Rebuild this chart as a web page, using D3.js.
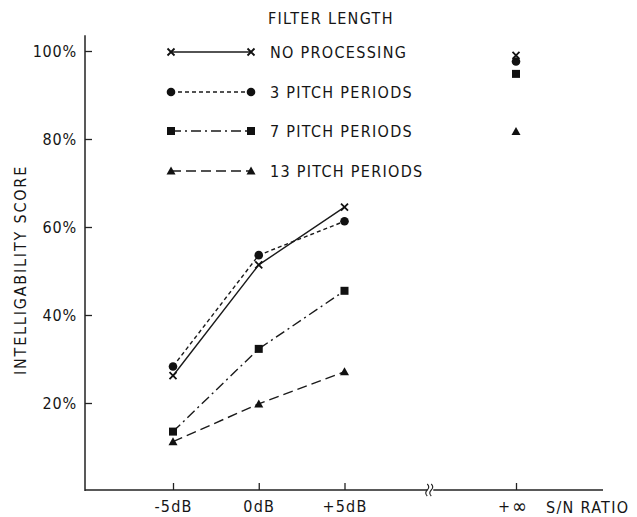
<!DOCTYPE html>
<html><head><meta charset="utf-8">
<script src="https://cdn.jsdelivr.net/npm/d3@7"></script>
<style>
body{margin:0;background:#fff;}
text{font-family:"DejaVu Sans Condensed","DejaVu Sans",sans-serif;fill:#151515;}
</style></head>
<body><svg id="c" width="637" height="517"></svg>
<script>
// ---- data ----
const categories = ["-5dB","0dB","+5dB","","+∞"];
const lineCategories = ["-5dB","0dB","+5dB"];
const seriesNames = ["NO PROCESSING","3 PITCH PERIODS","7 PITCH PERIODS","13 PITCH PERIODS"];
const noProcessing = [26.2, 51.4, 64.5];
const pitch3 = [28.3, 53.6, 61.3];
const pitch7 = [13.5, 32.3, 45.5];
const pitch13 = [11.2, 19.8, 27.1];
const infinityValues = [99.0, 97.6, 94.8, 81.7];
const yTicks = [20, 40, 60, 80, 100];
const yTickLabels = ["20%","40%","60%","80%","100%"];

const svg = d3.select("#c");
const x = d3.scalePoint().domain(categories).range([173, 516]);
const y = d3.scaleLinear().domain([0, 100]).range([491, 51]);

const styles = [
  {dash:null, sym:"x"},
  {dash:"4,3", sym:"circle"},
  {dash:"10,4,2,4", sym:"square"},
  {dash:"10,5", sym:"triangle"}
];
const allSeries = [noProcessing, pitch3, pitch7, pitch13];
const FS = "16px";

// axes
const yAxis = d3.axisLeft(y).tickValues(yTicks).tickFormat((d,i)=>yTickLabels[i])
  .tickSizeInner(-7).tickSizeOuter(0).tickPadding(8);
const gy = svg.append("g").attr("transform","translate(85,0)").call(yAxis);
gy.select(".domain").remove();
gy.selectAll("line").attr("stroke","#222").attr("stroke-width",1.3);
gy.selectAll("text").style("font-size",FS).style("letter-spacing","0.8px").style("font-family",null);
svg.append("line").attr("x1",85).attr("x2",85).attr("y1",y(0)).attr("y2",y(103.6))
  .attr("stroke","#222").attr("stroke-width",1.5);

const xAxis = d3.axisBottom(x).tickValues(["-5dB","0dB","+5dB","+∞"]).tickSizeInner(-7).tickSizeOuter(0).tickPadding(11);
const gx = svg.append("g").attr("transform",`translate(0,${y(0)-1})`).call(xAxis);
gx.select(".domain").remove();
gx.selectAll("line").attr("stroke","#222").attr("stroke-width",1.3);
gx.selectAll("text").style("font-size",FS).style("letter-spacing","1.2px").style("font-family",null);
// enlarge the infinity glyph like the original lettering
gx.selectAll("text").filter(d=>d==="+∞").text(null).style("letter-spacing","0px").attr("dx","-4")
  .call(t=>{t.append("tspan").text("+"); t.append("tspan").style("font-size","20px").attr("dx","2").attr("dy","1").text("∞");});
const axisY = y(0)-1;
const brk = x("");
svg.append("line").attr("x1",85).attr("x2",brk-3).attr("y1",axisY).attr("y2",axisY).attr("stroke","#222").attr("stroke-width",1.4);
svg.append("line").attr("x1",brk+3).attr("x2",603).attr("y1",axisY).attr("y2",axisY).attr("stroke","#222").attr("stroke-width",1.4);
[-2,2].forEach(o=>{
  svg.append("path").attr("d",`M${brk+o-1},${axisY-6} q3,3 0,6 q-3,3 0,6`)
    .attr("fill","none").attr("stroke","#222").attr("stroke-width",1.1);
});
svg.append("text").attr("x",546).attr("y",513).style("font-size",FS).style("letter-spacing","1.3px").text("S/N RATIO");

svg.append("text").attr("transform","translate(26,270) rotate(-90)").attr("text-anchor","middle")
  .style("font-size",FS).style("letter-spacing","1.8px").text("INTELLIGABILITY  SCORE");

// markers
function marker(g, sym, cx, cy){
  if(sym==="x"){
    g.append("path").attr("d",`M${cx-3.5},${cy-3.5}L${cx+3.5},${cy+3.5}M${cx-3.5},${cy+3.5}L${cx+3.5},${cy-3.5}`)
      .attr("stroke","#111").attr("stroke-width",1.8);
  } else if(sym==="circle"){
    g.append("circle").attr("cx",cx).attr("cy",cy).attr("r",4.3).attr("fill","#111");
  } else if(sym==="square"){
    g.append("rect").attr("x",cx-4).attr("y",cy-4).attr("width",8).attr("height",8).attr("fill","#111");
  } else {
    g.append("path").attr("d",`M${cx},${cy-4.5}L${cx+4.5},${cy+3.5}L${cx-4.5},${cy+3.5}Z`).attr("fill","#111");
  }
}

const line = d3.line().x((d,i)=>x(lineCategories[i])).y(d=>y(d));
allSeries.forEach((s,k)=>{
  const g = svg.append("g");
  g.append("path").attr("d",line(s)).attr("fill","none").attr("stroke","#1a1a1a")
    .attr("stroke-width",1.4).attr("stroke-dasharray",styles[k].dash);
  s.forEach((v,i)=>marker(g, styles[k].sym, x(lineCategories[i]), y(v)));
  marker(g, styles[k].sym, x("+∞"), y(infinityValues[k]));
});

// legend
svg.append("text").attr("x",268).attr("y",24).style("font-size",FS).style("letter-spacing","1.3px").text("FILTER LENGTH");
const legY = [52, 92, 131, 171];
seriesNames.forEach((n,k)=>{
  const g = svg.append("g");
  g.append("line").attr("x1",171).attr("x2",251).attr("y1",legY[k]).attr("y2",legY[k])
    .attr("stroke","#1a1a1a").attr("stroke-width",1.4).attr("stroke-dasharray",styles[k].dash);
  marker(g, styles[k].sym, 171, legY[k]);
  marker(g, styles[k].sym, 251, legY[k]);
  g.append("text").attr("x",270).attr("y",legY[k]+6).style("font-size",FS).style("letter-spacing","1.3px").text(n);
});
</script></body></html>
